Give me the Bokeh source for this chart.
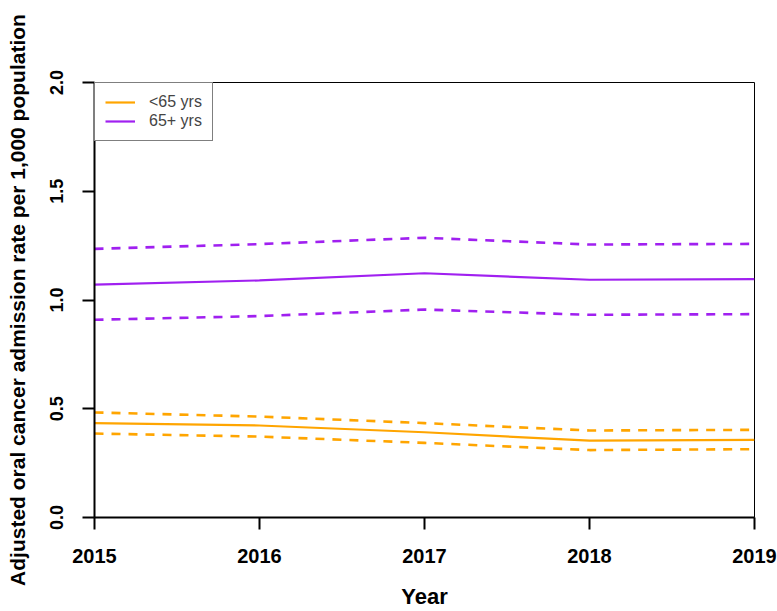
from bokeh.plotting import figure
from bokeh.models import Range1d, FixedTicker, Legend, LegendItem
from bokeh.embed import file_html
from bokeh.resources import INLINE

years = [2015, 2016, 2017, 2018, 2019]

# Under-65 admission rates with confidence bounds
under65_rate = [0.434, 0.423, 0.392, 0.353, 0.357]
under65_upper = [0.483, 0.464, 0.434, 0.400, 0.403]
under65_lower = [0.386, 0.372, 0.343, 0.310, 0.314]

# 65-and-over admission rates with confidence bounds
over65_rate = [1.071, 1.090, 1.123, 1.093, 1.096]
over65_upper = [1.235, 1.257, 1.286, 1.255, 1.258]
over65_lower = [0.909, 0.926, 0.956, 0.932, 0.935]

series_labels = ["<65 yrs", "65+ yrs"]
y_ticks = [0.0, 0.5, 1.0, 1.5, 2.0]

ORANGE = "#FFA500"
PURPLE = "#A020F0"
FONT = "Liberation Sans"

p = figure(width=777, height=611, output_backend="svg", toolbar_location=None,
           x_range=Range1d(2015, 2019), y_range=Range1d(0, 2.0),
           min_border_left=94, min_border_right=23, min_border_top=82,
           min_border_bottom=94)

p.grid.visible = False
p.outline_line_color = "black"
p.outline_line_width = 1
p.background_fill_color = "white"
p.border_fill_color = "white"

# solid rate lines
l1 = p.line(years, under65_rate, line_color=ORANGE, line_width=2.2)
l2 = p.line(years, over65_rate, line_color=PURPLE, line_width=2.2)

# dashed confidence bounds
for ys, c in [(under65_upper, ORANGE), (under65_lower, ORANGE),
              (over65_upper, PURPLE), (over65_lower, PURPLE)]:
    p.line(years, ys, line_color=c, line_width=2.6, line_dash="9 8")

# axes
xa = p.xaxis[0]
xa.ticker = FixedTicker(ticks=years)
xa.axis_label = "Year"
ya = p.yaxis[0]
ya.ticker = FixedTicker(ticks=y_ticks)
ya.axis_label = "Adjusted oral cancer admission rate per 1,000 population"
ya.major_label_overrides = {t: f"{t:.1f}" for t in y_ticks}
ya.major_label_orientation = "vertical"

for ax in (xa, ya):
    ax.axis_line_width = 2
    ax.axis_line_color = "black"
    ax.major_tick_line_width = 2
    ax.major_tick_line_color = "black"
    ax.major_tick_in = 0
    ax.major_tick_out = 12
    ax.minor_tick_line_color = None
    ax.major_label_text_font = FONT
    ax.major_label_text_font_style = "bold"
    ax.major_label_text_color = "black"
    ax.axis_label_text_font = FONT
    ax.axis_label_text_font_style = "bold"
    ax.axis_label_text_color = "black"

xa.axis_label_text_font_size = "22px"
ya.axis_label_text_font_size = "21px"
xa.major_label_text_font_size = "20px"
ya.major_label_text_font_size = "18px"
xa.major_label_standoff = 19
ya.major_label_standoff = 20
xa.axis_label_standoff = 18
ya.axis_label_standoff = 18

legend = Legend(items=[LegendItem(label=series_labels[0], renderers=[l1]),
                       LegendItem(label=series_labels[1], renderers=[l2])],
                location="top_left", margin=0, padding=10,
                border_line_color="black", border_line_width=1,
                background_fill_alpha=1.0,
                label_text_font=FONT, label_text_font_size="16px",
                glyph_width=30, glyph_height=18, label_standoff=14,
                spacing=1, label_height=18)
p.add_layout(legend, "center")

open("out.html", "w").write(file_html(p, INLINE))
